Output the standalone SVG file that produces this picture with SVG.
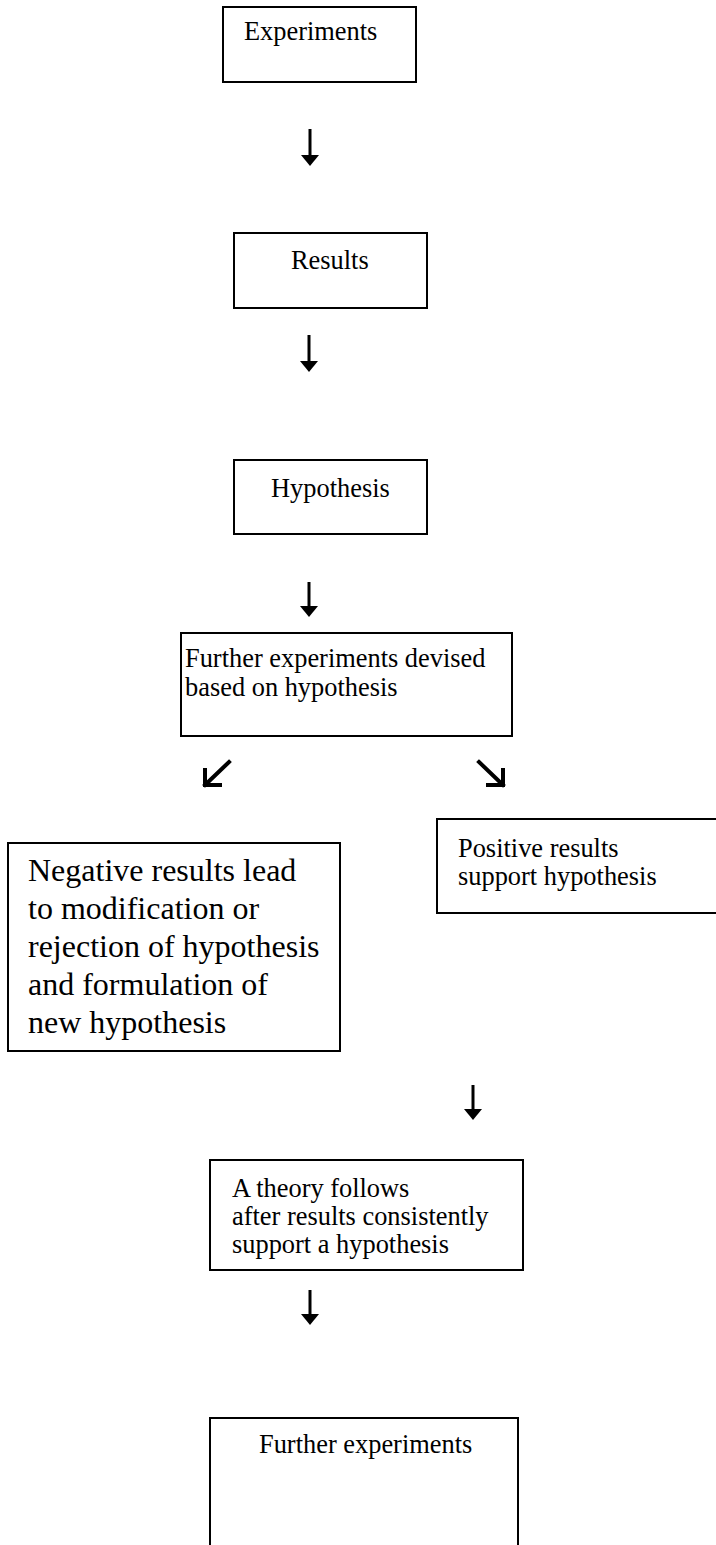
<svg xmlns="http://www.w3.org/2000/svg" width="716" height="1545" viewBox="0 0 716 1545">
<style>
.box{fill:#fff;stroke:#000;stroke-width:2}
.t{font-family:"Liberation Serif","Times New Roman",serif;font-size:26.4px;fill:#000}
.big{font-size:32px}
.shaft{stroke:#000;stroke-width:3;fill:none}
.diag{stroke:#000;stroke-width:4;fill:none;stroke-linecap:square;stroke-linejoin:miter}
.head{fill:#000}
</style>
<rect width="716" height="1545" fill="#fff"/>
<g id="n1"><rect class="box" x="223" y="7" width="193" height="75"/><text class="t" x="244" y="40">Experiments</text></g>
<g id="n2"><rect class="box" x="234" y="233" width="193" height="75"/><text class="t" x="291" y="269">Results</text></g>
<g id="n3"><rect class="box" x="234" y="460" width="193" height="74"/><text class="t" x="271" y="497">Hypothesis</text></g>
<g id="n4"><rect class="box" x="181" y="633" width="331" height="103"/><text class="t" x="185" y="667">Further experiments devised</text><text class="t" x="185" y="696">based on hypothesis</text></g>
<g id="n5"><rect class="box" x="8" y="843" width="332" height="208"/><text class="t big" x="28" y="881">Negative results lead</text><text class="t big" x="28" y="919">to modification or</text><text class="t big" x="28" y="957">rejection of hypothesis</text><text class="t big" x="28" y="995">and formulation of</text><text class="t big" x="28" y="1033">new hypothesis</text></g>
<g id="n6"><rect class="box" x="437" y="819" width="282" height="94"/><text class="t" x="458" y="857">Positive results</text><text class="t" x="458" y="885">support hypothesis</text></g>
<g id="n7"><rect class="box" x="210" y="1160" width="313" height="110"/><text class="t" x="232" y="1197">A theory follows</text><text class="t" x="232" y="1225">after results consistently</text><text class="t" x="232" y="1253">support a hypothesis</text></g>
<g id="n8"><rect class="box" x="210" y="1418" width="308" height="140"/><text class="t" x="259" y="1453">Further experiments</text></g>
<g id="connectors">
<line class="shaft" x1="310" y1="129" x2="310" y2="156"/><polygon class="head" points="301,155 319,155 310,166"/>
<line class="shaft" x1="309" y1="335" x2="309" y2="362"/><polygon class="head" points="300,361 318,361 309,372"/>
<line class="shaft" x1="309" y1="582" x2="309" y2="607"/><polygon class="head" points="300,606 318,606 309,617"/>
<path class="diag" d="M229,762 L205,785 M205,770 L205,785 L220,785"/>
<path class="diag" d="M479,762 L503,785 M503,770 L503,785 L488,785"/>
<line class="shaft" x1="473" y1="1085" x2="473" y2="1110"/><polygon class="head" points="464,1109 482,1109 473,1120"/>
<line class="shaft" x1="310" y1="1290" x2="310" y2="1315"/><polygon class="head" points="301,1314 319,1314 310,1325"/>
</g>
</svg>
